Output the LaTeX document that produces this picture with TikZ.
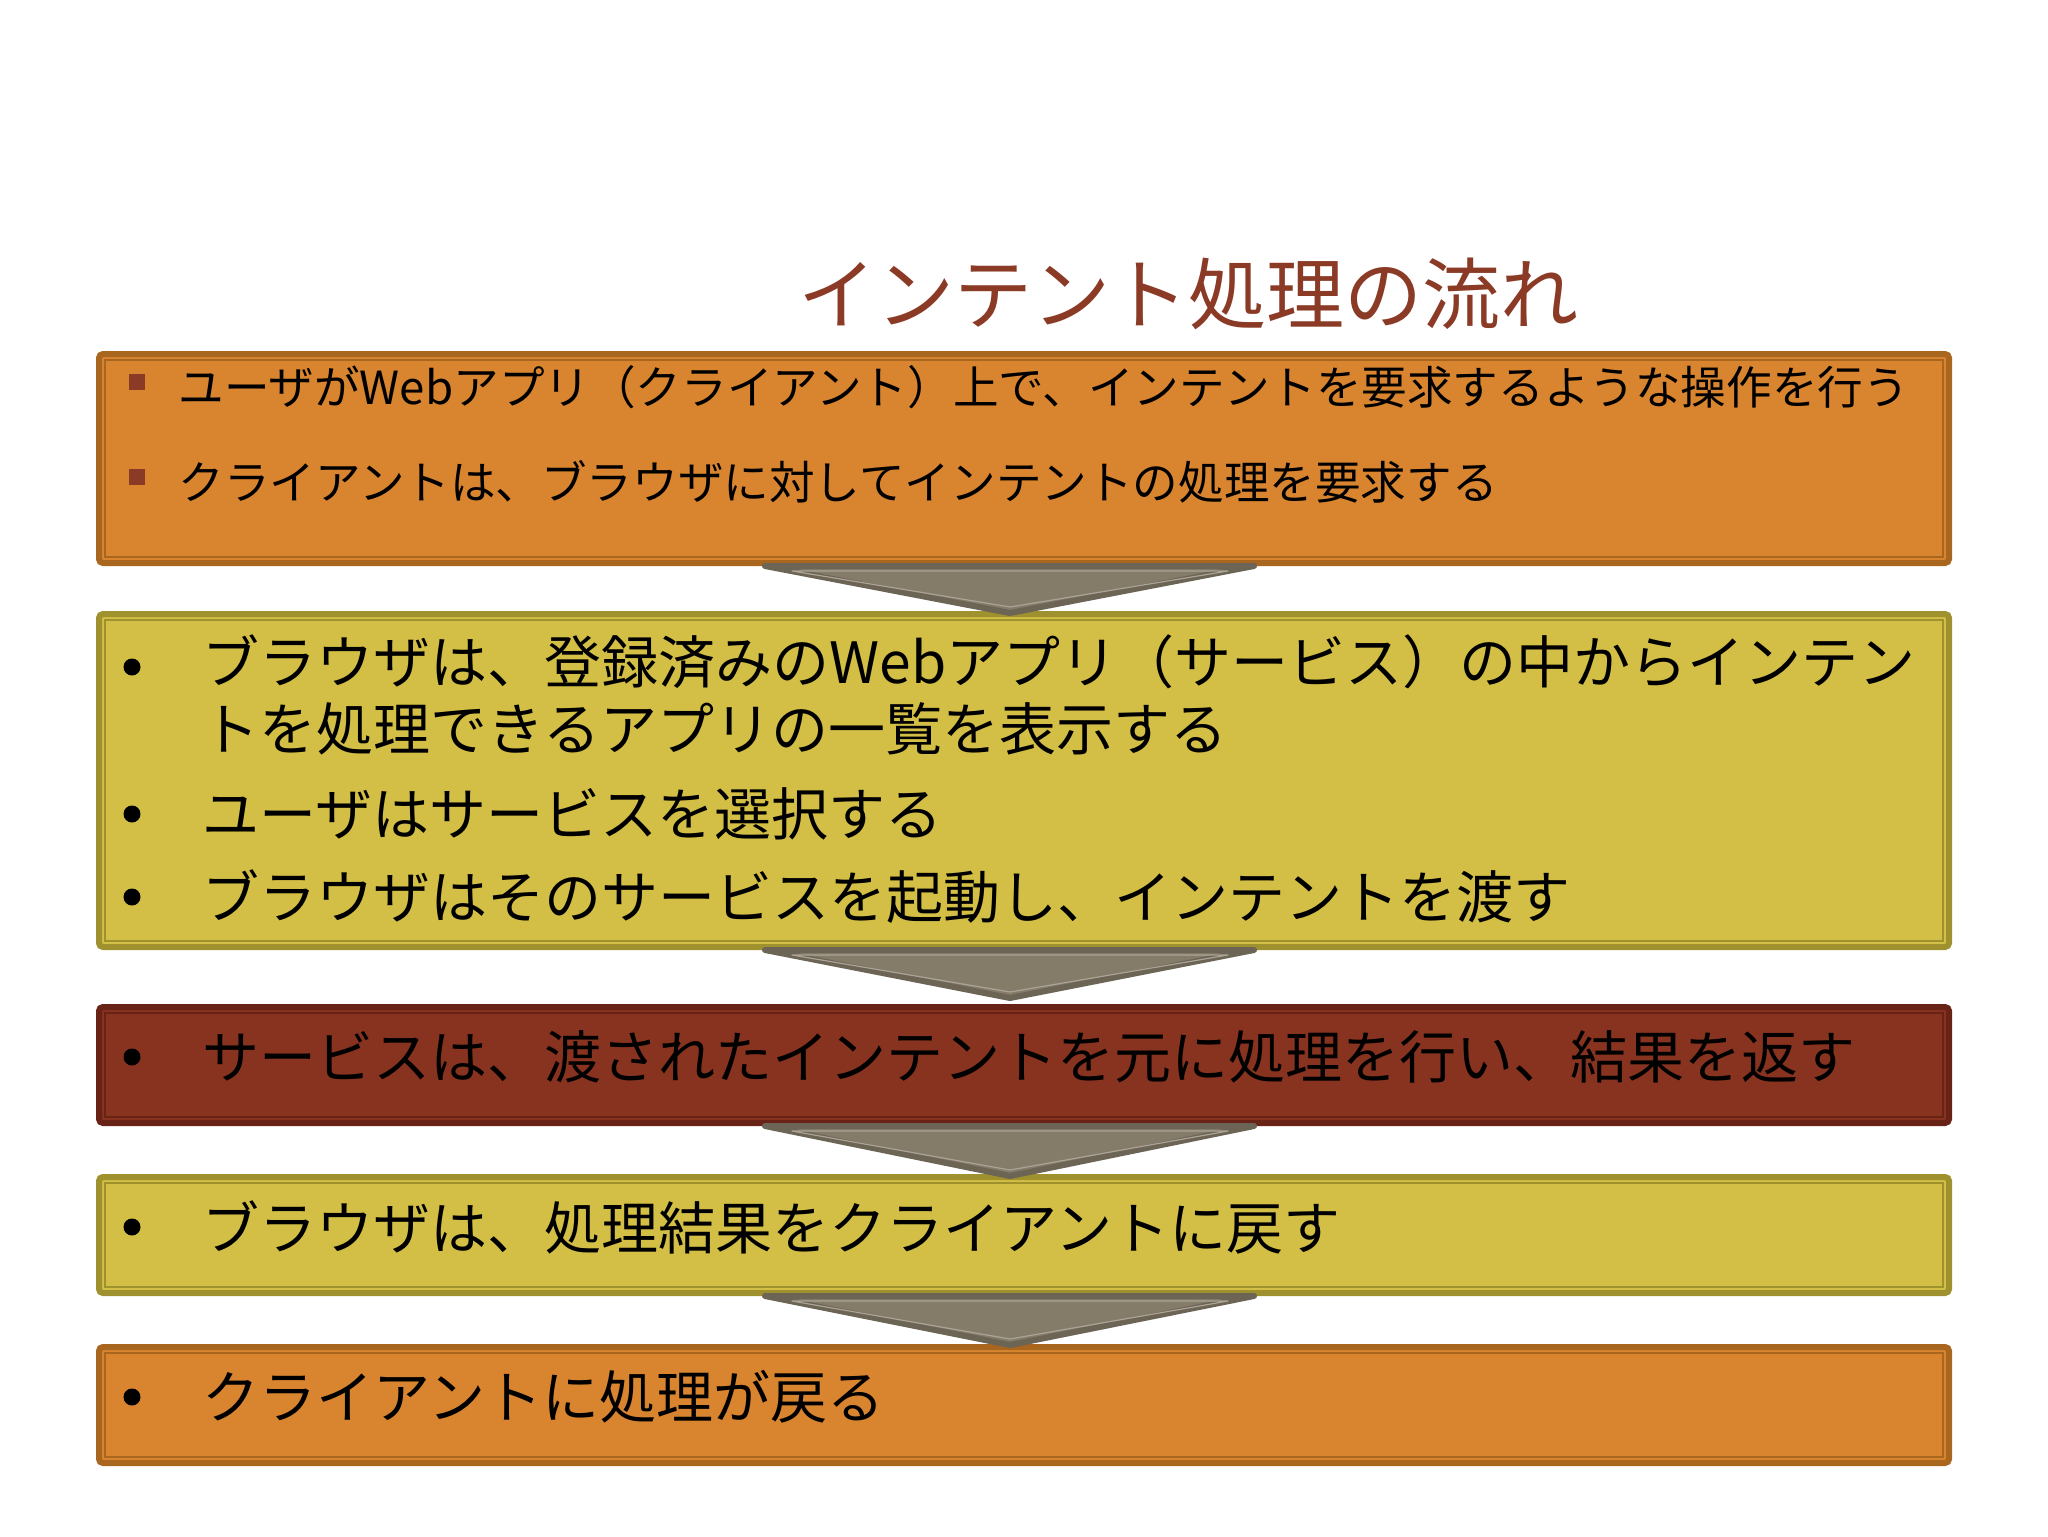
\documentclass[tikz,border=0pt]{standalone}
\usepackage{fontspec}
\setmainfont{Noto Sans CJK JP}
\usetikzlibrary{calc}
\definecolor{orfill}{HTML}{D98530}
\definecolor{orline}{HTML}{A8661F}
\definecolor{yefill}{HTML}{D3BF45}
\definecolor{yeline}{HTML}{9E912E}
\definecolor{rdfill}{HTML}{87331F}
\definecolor{rdline}{HTML}{682316}
\definecolor{arfill}{HTML}{857B69}
\definecolor{arline}{HTML}{6C6455}
\definecolor{titlec}{HTML}{8B3A26}
\begin{document}
\begin{tikzpicture}[x=0.5pt,y=-0.5pt,
  stagebox/.style={rectangle, minimum width=925pt, inner sep=0pt, line width=3pt, rounded corners=2pt},
  orbox/.style={stagebox, fill=orfill, draw=orline},
  yebox/.style={stagebox, fill=yefill, draw=yeline},
  rdbox/.style={stagebox, fill=rdfill, draw=rdline},
  innerline/.style={line width=0.8pt},
  chevron/.style={fill=arfill, draw=arline, line width=3pt, line join=round},
  chevinner/.style={draw=arfill!70!white, line width=0.6pt, line join=round},
  smalltxt/.style={anchor=west, inner sep=0pt, font=\fontsize{22.8}{27}\selectfont},
  bigtxt/.style={anchor=west, inner sep=0pt, font=\fontsize{28.5}{33.5}\selectfont, align=left},
  sqbullet/.style={fill=titlec, minimum size=8pt, inner sep=0pt},
  dotbullet/.style={circle, fill=black, minimum size=8.5pt, inner sep=0pt}
]
\useasboundingbox[fill=white] (0,0) rectangle (2048,1536);

% title
\node[titlec, font=\fontsize{39}{44}\selectfont, inner sep=0pt] (title) at (1188,294) {インテント処理の流れ};

% boxes
\node[orbox, minimum height=104.5pt] (b1) at (1024,458.5) {};
\node[yebox, minimum height=166.5pt] (b2) at (1024,780.5) {};
\node[rdbox, minimum height=58pt] (b3) at (1024,1065) {};
\node[yebox, minimum height=58pt] (b4) at (1024,1235) {};
\node[orbox, minimum height=58pt] (b5) at (1024,1405) {};

% inner lines
\draw[innerline, orline] ($(b1.north west)+(9,9)$) rectangle ($(b1.south east)+(-9,-9)$);
\draw[innerline, yeline] ($(b2.north west)+(9,9)$) rectangle ($(b2.south east)+(-9,-9)$);
\draw[innerline, rdline] ($(b3.north west)+(9,9)$) rectangle ($(b3.south east)+(-9,-9)$);
\draw[innerline, yeline] ($(b4.north west)+(9,9)$) rectangle ($(b4.south east)+(-9,-9)$);
\draw[innerline, orline] ($(b5.north west)+(9,9)$) rectangle ($(b5.south east)+(-9,-9)$);

% box 1 text
\node[sqbullet] (s1) at (137,382) {};
\node[smalltxt] (t1a) at (178,387) {ユーザがWebアプリ（クライアント）上で、インテントを要求するような操作を行う};
\node[sqbullet] (s2) at (137,477) {};
\node[smalltxt] (t1b) at (178,482) {クライアントは、ブラウザに対してインテントの処理を要求する};

% box 2 text
\node[dotbullet] (d2a) at (132,667) {};
\node[bigtxt, anchor=north west] (t2a) at (202,634) {ブラウザは、登録済みのWebアプリ（サービス）の中からインテン\\トを処理できるアプリの一覧を表示する};
\node[dotbullet] (d2b) at (132,814) {};
\node[bigtxt] (t2b) at (202,814) {ユーザはサービスを選択する};
\node[dotbullet] (d2c) at (132,897) {};
\node[bigtxt] (t2c) at (202,897) {ブラウザはそのサービスを起動し、インテントを渡す};

% box 3..5 text
\node[dotbullet] (d3) at (132,1057) {};
\node[bigtxt] (t3) at (202,1057) {サービスは、渡されたインテントを元に処理を行い、結果を返す};
\node[dotbullet] (d4) at (132,1227) {};
\node[bigtxt] (t4) at (202,1227) {ブラウザは、処理結果をクライアントに戻す};
\node[dotbullet] (d5) at (132,1397) {};
\node[bigtxt] (t5) at (202,1397) {クライアントに処理が戻る};

% chevrons
\foreach \u/\l/\dy in {b1/b2/2, b2/b3/-6, b3/b4/2, b4/b5/1} {
  \draw[chevron] ($(\u.south)+(-259,0)$) -- ($(\u.south)+(230,0)$) -- ($(\l.north)+(-14,\dy)$) -- cycle;
  \draw[chevinner] ($(\u.south)+(-232,5)$) -- ($(\u.south)+(204,5)$) -- ($(\l.north)+(-14,\dy-6)$) -- cycle;
}
\end{tikzpicture}
\end{document}
